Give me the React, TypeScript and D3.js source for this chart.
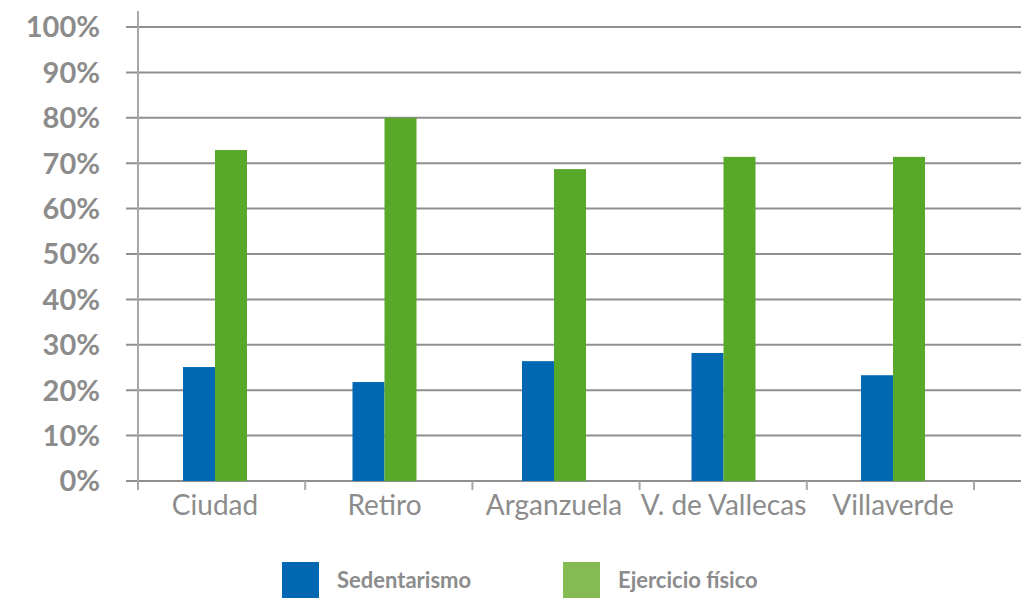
import React from "react";
import * as d3 from "d3";

const categories = ["Ciudad", "Retiro", "Arganzuela", "V. de Vallecas", "Villaverde"];
const seriesNames = ["Sedentarismo", "Ejercicio físico"];
const sedentarismo = [25.1, 21.8, 26.4, 28.2, 23.3];
const ejercicio = [72.9, 80.0, 68.7, 71.4, 71.4];
const yTicks = [0, 10, 20, 30, 40, 50, 60, 70, 80, 90, 100];

const W = 1021;
const H = 598;
const barColors = ["#0068B3", "#58A92A"];
const legendColors = ["#0068B3", "#86BB54"];

export default function App() {
  const x = d3.scaleBand<string>().domain(categories).range([138, 974]).padding(0);
  const xc = d3.scalePoint<string>().domain(categories).range([215, 893]);
  const y = d3.scaleLinear().domain([0, 100]).range([481, 27]);
  const barW = 32;
  const series = [sedentarismo, ejercicio];
  const font = "Lato, 'Open Sans', sans-serif";
  const boundaries = [...categories.map((c) => x(c) as number), 974];

  return (
    <svg
      width={W}
      height={H}
      style={{ position: "absolute", left: 0, top: 0, background: "#fff" }}
      fontFamily={font}
    >
      {yTicks.map((t) => (
        <line key={"g" + t} x1={126} x2={W} y1={y(t)} y2={y(t)} stroke="#8f8f8f" strokeWidth={2} />
      ))}
      <line x1={138} x2={138} y1={11} y2={490} stroke="#a8a8a8" strokeWidth={2} />
      {boundaries.slice(1).map((b, i) => (
        <line key={"t" + i} x1={b} x2={b} y1={481} y2={490} stroke="#a8a8a8" strokeWidth={2} />
      ))}
      {yTicks.map((t) => (
        <text
          key={"yl" + t}
          x={100}
          y={y(t)}
          dy="0.36em"
          textAnchor="end"
          fontSize={29}
          fontWeight="bold"
          fill="#8c8c8c"
        >
          {t + "%"}
        </text>
      ))}
      {categories.map((c, i) => {
        const cx = xc(c) as number;
        return series.map((s, j) => (
          <rect
            key={c + j}
            x={cx - barW + j * barW}
            y={y(s[i])}
            width={barW}
            height={y(0) - y(s[i])}
            fill={barColors[j]}
          />
        ));
      })}
      {categories.map((c) => (
        <text
          key={"xl" + c}
          x={xc(c) as number}
          y={515}
          textAnchor="middle"
          fontSize={28}
          fill="#8c8c8c"
        >
          {c}
        </text>
      ))}
      {seriesNames.map((n, i) => {
        const lx = [282, 563][i];
        return (
          <g key={"lg" + n}>
            <rect x={lx} y={562} width={37} height={36} fill={legendColors[i]} />
            <text x={lx + 55} y={588} fontSize={22} fontWeight="bold" fill="#8c8c8c">
              {n}
            </text>
          </g>
        );
      })}
    </svg>
  );
}
